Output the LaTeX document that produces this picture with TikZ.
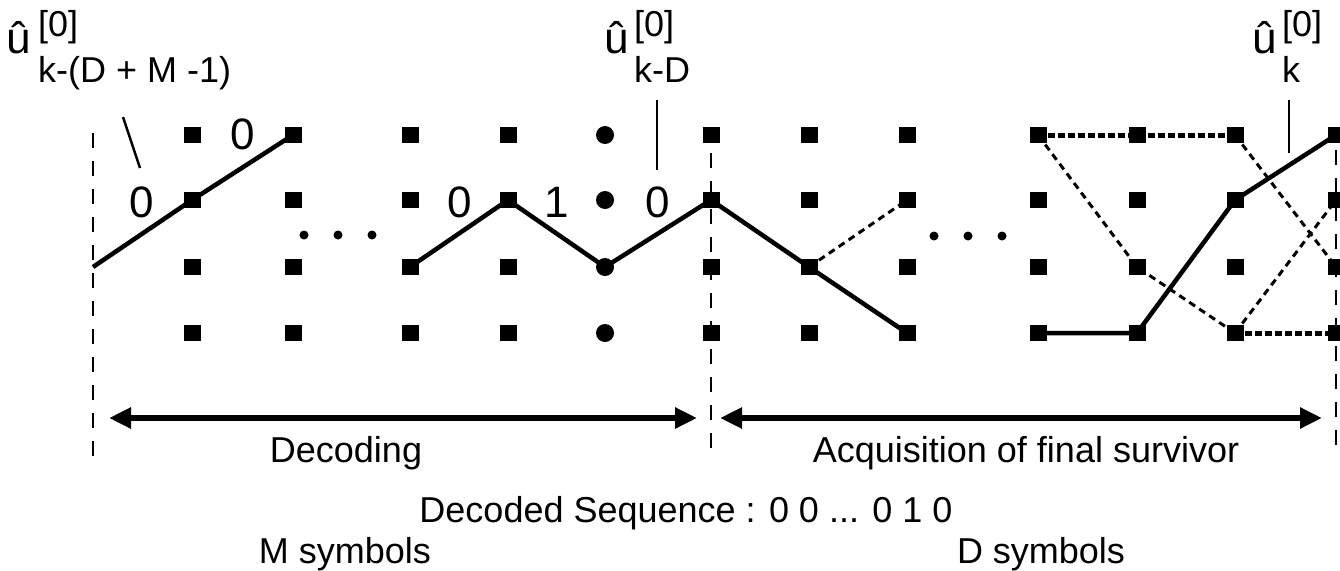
\documentclass[tikz,border=0pt]{standalone}
\usepackage{fontspec}
\setmainfont{Liberation Sans}
\usetikzlibrary{arrows.meta}
\begin{document}
\begin{tikzpicture}[x=1pt,y=-1pt,
  sq/.style={fill=black, draw=none, minimum width=17pt, minimum height=16pt, inner sep=0pt},
  rnd/.style={circle, fill=black, draw=none, minimum size=18pt, inner sep=0pt},
  pt/.style={circle, fill=black, draw=none, minimum size=9pt, inner sep=0pt},
  solidedge/.style={line width=4.5pt, line join=round},
  hdash/.style={line width=5pt, dash pattern=on 7pt off 3pt},
  ddash/.style={line width=3pt, dash pattern=on 7pt off 5pt},
  vdash/.style={line width=2.5pt, dash pattern=on 15pt off 13pt},
  span/.style={line width=5.5pt, {Triangle[length=22pt,width=20pt]}-{Triangle[length=22pt,width=20pt]}},
  txt/.style={inner sep=0pt, font=\fontsize{36}{40}\selectfont},
  sym/.style={inner sep=0pt, font=\fontsize{44}{48}\selectfont},
  hat/.style={inner sep=0pt, font=\fontsize{44}{48}\selectfont},
  ptr/.style={line width=2.5pt}
]
\useasboundingbox (0,0) rectangle (1340,570);

% trellis nodes
\foreach \c/\x in {2/192,3/293,4/410,5/508,7/711,8/809,9/907,10/1038,11/1137,12/1235,13/1336}{
  \foreach \r/\y in {1/135,2/200,3/267,4/333}{
    \node[sq] (n\c-\r) at (\x,\y) {};
  }
}
\foreach \r/\y in {1/135,2/200,3/267,4/333}{
  \node[rnd] (n6-\r) at (605,\y) {};
}
\coordinate (n1-3) at (93,267);

% ellipsis dots
\node[pt] (d1) at (304,235) {};
\node[pt] (d2) at (338,235) {};
\node[pt] (d3) at (372,235) {};
\node[pt] (d4) at (934,236) {};
\node[pt] (d5) at (968,236) {};
\node[pt] (d6) at (1002,236) {};

% vertical dashed separators
\coordinate (v1t) at (93,133);
\coordinate (v1b) at (93,457);
\coordinate (v7t) at (711,153);
\coordinate (v7b) at (711,457);
\coordinate (v13t) at (1336,150);
\coordinate (v13b) at (1336,457);
\draw[vdash] (v1t) -- (v1b);
\draw[vdash] (v7t) -- (v7b);
\draw[vdash] (v13t) -- (v13b);

% solid survivor paths
\draw[solidedge] (n1-3) -- (n2-2.center) -- (n3-1.center);
\draw[solidedge] (n4-3.center) -- (n5-2.center) -- (n6-3.center) -- (n7-2.center)
  -- (n8-3.center) -- (n9-4.center);
\draw[solidedge] (n10-4.center) -- (n11-4.center) -- (n12-2.center) -- (n13-1.center);

% dashed paths
\draw[ddash] (n8-3.center) -- (n9-2.center);
\draw[hdash] (n10-1.center) -- (n11-1.center) -- (n12-1.center);
\draw[ddash] (n10-1.center) -- (n11-3.center) -- (n12-4.center);
\draw[ddash] (n12-1.center) -- (n13-3.center);
\draw[ddash] (n12-4.center) -- (n13-2.center);
\draw[hdash] (n12-4.center) -- (n13-4.center);

% branch labels
\node[sym] (b1) at (243,134) {0};
\node[sym] (b2) at (142,202) {0};
\node[sym] (b3) at (460,202) {0};
\node[sym] (b4) at (557,202) {1};
\node[sym] (b5) at (658,202) {0};

% top labels
\node[hat, anchor=base] (u1) at (19,53) {û};
\node[txt, anchor=base west] (u1s) at (38,36) {[0]};
\node[txt, anchor=base west] (u1i) at (38,82) {k-(D + M -1)};
\node[hat, anchor=base] (u2) at (617,53) {û};
\node[txt, anchor=base west] (u2s) at (634,36) {[0]};
\node[txt, anchor=base west] (u2i) at (634,82) {k-D};
\node[hat, anchor=base] (u3) at (1265,53) {û};
\node[txt, anchor=base west] (u3s) at (1282,36) {[0]};
\node[txt, anchor=base west] (u3i) at (1282,82) {k};

% pointer lines
\coordinate (p1a) at (123,117);
\coordinate (p1b) at (140,168);
\coordinate (p2a) at (657,100);
\coordinate (p2b) at (657,170);
\coordinate (p3a) at (1289,100);
\coordinate (p3b) at (1289,153);
\draw[ptr] (p1a) -- (p1b);
\draw[ptr] (p2a) -- (p2b);
\draw[ptr] (p3a) -- (p3b);

% span arrows
\coordinate (a1l) at (109,418);
\coordinate (a1r) at (697,418);
\coordinate (a2l) at (720,418);
\coordinate (a2r) at (1322,418);
\draw[span] (a1l) -- (a1r);
\draw[span] (a2l) -- (a2r);

% bottom texts
\node[txt, anchor=base] (tdec) at (346,462) {Decoding};
\node[txt, anchor=base] (tacq) at (1026,462) {Acquisition of final survivor};
\node[txt, anchor=base] (tseq) at (686,522) {Decoded Sequence : 0 0 ... 0 1 0};
\node[txt, anchor=base] (tm) at (345,563) {M symbols};
\node[txt, anchor=base] (td) at (1041,563) {D symbols};
\end{tikzpicture}
\end{document}
